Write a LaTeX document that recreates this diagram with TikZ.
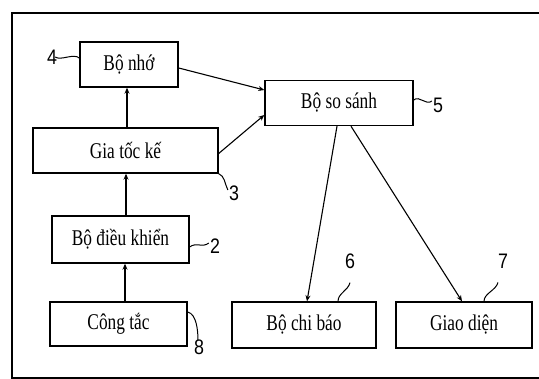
\documentclass[tikz,border=0pt]{standalone}
\usepackage{fontspec}
\setmainfont{Liberation Serif}
\newfontfamily\numfont{Liberation Sans}
\usepackage{graphicx}
\usetikzlibrary{arrows.meta,positioning}

% narrow serif text, as in the scanned figure
\newcommand{\narrowtext}[1]{\scalebox{0.77}[1]{#1}}
\newcommand{\narrownum}[1]{\scalebox{0.85}[1]{#1}}

\tikzset{
  blockbox/.style={draw,line width=1.4pt,inner sep=0pt,
    font=\fontsize{22.5}{24}\selectfont},
  numlabel/.style={inner sep=0pt,font=\numfont\fontsize{21}{23}\selectfont},
  lead/.style={line width=1pt},
  link/.style={line width=1.1pt,-{Stealth[length=6pt,width=5pt]}}
}

\begin{document}
\begin{tikzpicture}[x=1pt,y=-1pt]
\useasboundingbox (0,0) rectangle (539,379);
% frame
\draw[line width=1.2pt] (539,13) -- (12,13) -- (12,378) -- (539,378);
% blocks
\node[blockbox,minimum width=98pt,minimum height=45pt] (mem) at (129,64.5) {\narrowtext{Bộ nhớ}};
\node[blockbox,minimum width=185pt,minimum height=45pt] (acc) at (125.5,150.5) {\narrowtext{Gia tốc kế}};
\node[blockbox,minimum width=148pt,minimum height=45pt] (cmp) at (339,103) {\narrowtext{Bộ so sánh}};
\node[blockbox,minimum width=137pt,minimum height=47pt] (ctrl) at (120.5,239.5) {\narrowtext{Bộ điều khiển}};
\node[blockbox,minimum width=137pt,minimum height=44pt] (sw) at (118.5,324) {\narrowtext{Công tắc}};
\node[blockbox,minimum width=144pt,minimum height=46pt] (ind) at (304,325) {\narrowtext{Bộ chi báo}};
\node[blockbox,minimum width=136pt,minimum height=46pt] (ui) at (464,325) {\narrowtext{Giao diện}};
% reference numbers
\node[numlabel] (n4) at (52,57) {\narrownum{4}};
\node[numlabel] (n5) at (438,105) {\narrownum{5}};
\node[numlabel] (n3) at (234,193) {\narrownum{3}};
\node[numlabel] (n2) at (215,246) {\narrownum{2}};
\node[numlabel] (n8) at (199,347) {\narrownum{8}};
\node[numlabel] (n6) at (350,261) {\narrownum{6}};
\node[numlabel] (n7) at (503,261) {\narrownum{7}};
% leaders
\draw[lead] ([yshift=6.5pt]mem.west) .. controls +(-6,-5) and +(6,4) .. ([xshift=-2pt]n4.east);
\draw[lead] ([yshift=3pt]cmp.east) .. controls +(6,-5) and +(-6,5) .. ([xshift=-1pt,yshift=4pt]n5.west);
\draw[lead] (acc.south east) .. controls +(6,2) and +(-3,-6) .. ([xshift=-1pt,yshift=3pt]n3.west);
\draw[lead] ([yshift=-7.5pt]ctrl.east) .. controls +(6,-5) and +(-6,5) .. ([xshift=-1pt,yshift=3pt]n2.west);
\draw[lead] ([yshift=12pt]sw.east) .. controls +(9,2) and +(0,-9) .. ([xshift=-1pt,yshift=-1pt]n8.north);
\draw[lead] ([xshift=34pt]ind.north) .. controls +(0,-8) and +(-2,8) .. ([yshift=-14pt]n6.south);
\draw[lead] ([xshift=20pt]ui.north) .. controls +(0,-8) and +(-2,8) .. ([xshift=-5pt,yshift=-14pt]n7.south);
% signal paths
\draw[link] (sw.north -| 125,0) -- (ctrl.south -| 125,0);
\draw[link] (ctrl.north -| 126,0) -- (acc.south -| 126,0);
\draw[link] (acc.north -| 127,0) -- (mem.south -| 127,0);
\draw[link] ([yshift=-3.5pt]mem.east) -- ([yshift=13pt]cmp.west);
\draw[link] ([yshift=-3pt]acc.east) -- ([yshift=-12pt]cmp.west);
\draw[link] ([xshift=-2pt]cmp.south) -- ([xshift=3pt]ind.north);
\draw[link] ([xshift=12pt]cmp.south) -- ([xshift=-2pt]ui.north);
\end{tikzpicture}
\end{document}
